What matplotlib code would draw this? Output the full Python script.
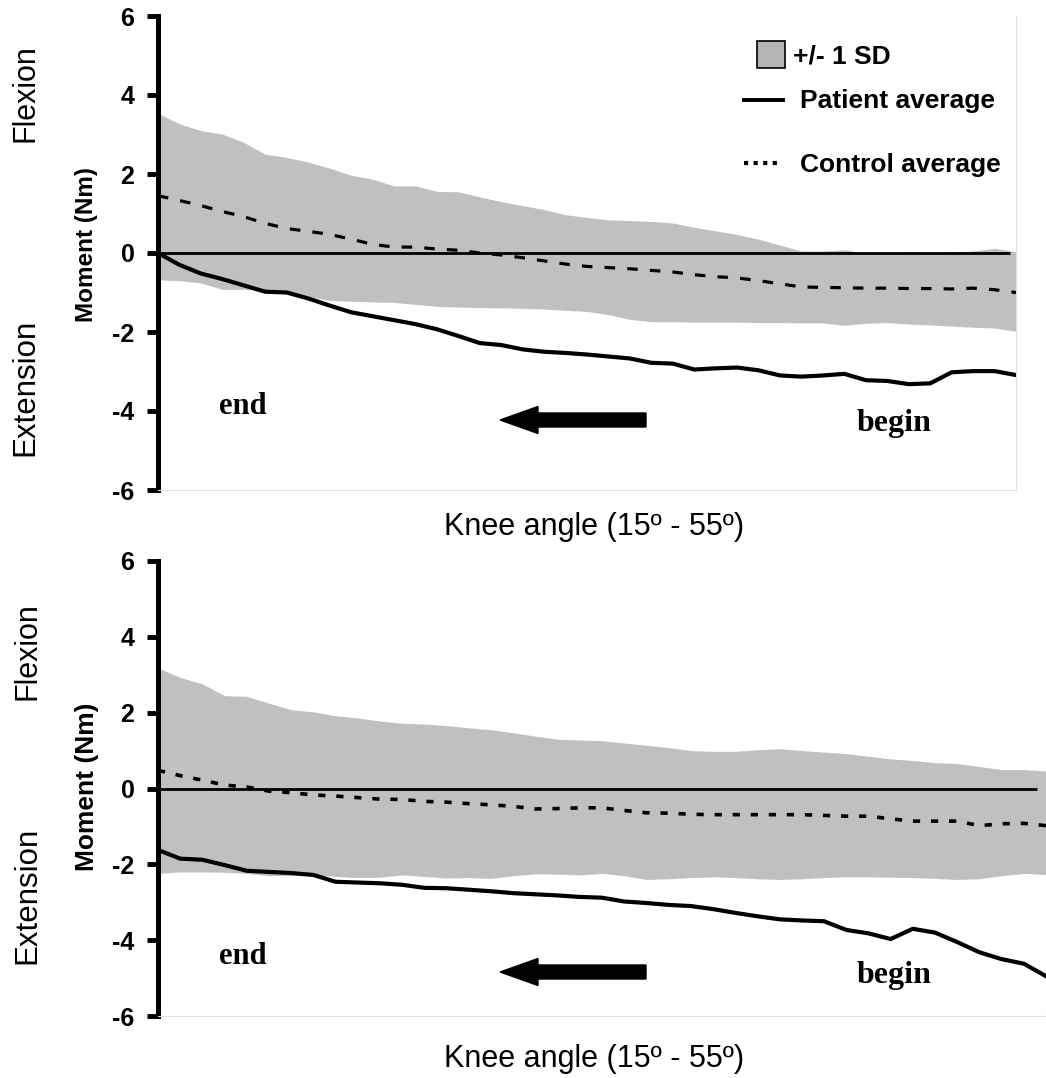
import matplotlib
matplotlib.use('Agg')
import matplotlib.pyplot as plt
import numpy as np
from matplotlib.patches import FancyArrow, Rectangle
from matplotlib.lines import Line2D

plt.rcParams['font.family'] = ['Liberation Sans', 'DejaVu Sans']

# 41 samples along the knee-angle sweep (end -> begin)
samples = np.arange(41)

# --- top panel ---
top_sd_upper = [3.54, 3.27, 3.10, 3.01, 2.80, 2.50, 2.42, 2.30, 2.15, 1.97,
                1.87, 1.70, 1.70, 1.56, 1.55, 1.42, 1.30, 1.20, 1.10, 0.97,
                0.90, 0.84, 0.82, 0.80, 0.76, 0.65, 0.56, 0.47, 0.35, 0.20,
                0.05, 0.05, 0.08, 0.00, 0.02, 0.03, 0.02, 0.03, 0.05, 0.12, 0.03]
top_sd_lower = [-0.68, -0.70, -0.76, -0.92, -0.92, -0.95, -1.00, -1.10, -1.20, -1.22,
                -1.24, -1.25, -1.30, -1.35, -1.37, -1.38, -1.39, -1.40, -1.42, -1.45,
                -1.48, -1.56, -1.68, -1.74, -1.74, -1.75, -1.75, -1.75, -1.76, -1.76,
                -1.77, -1.77, -1.83, -1.78, -1.76, -1.80, -1.82, -1.85, -1.88, -1.90, -1.98]
top_control = [1.45, 1.33, 1.20, 1.05, 0.92, 0.75, 0.62, 0.55, 0.47, 0.35,
               0.22, 0.15, 0.15, 0.10, 0.07, 0.00, -0.05, -0.12, -0.20, -0.28,
               -0.34, -0.37, -0.40, -0.44, -0.48, -0.55, -0.60, -0.63, -0.70, -0.78,
               -0.86, -0.87, -0.88, -0.89, -0.89, -0.90, -0.90, -0.91, -0.89, -0.93, -1.00]
top_patient = [0.00, -0.30, -0.52, -0.66, -0.82, -0.98, -1.00, -1.15, -1.33, -1.50,
               -1.60, -1.70, -1.80, -1.93, -2.10, -2.28, -2.33, -2.44, -2.50, -2.53,
               -2.57, -2.62, -2.67, -2.78, -2.80, -2.95, -2.92, -2.90, -2.97, -3.10,
               -3.13, -3.10, -3.06, -3.22, -3.24, -3.32, -3.30, -3.02, -2.99, -2.99, -3.09]

# --- bottom panel ---
bot_sd_upper = [3.18, 2.93, 2.76, 2.45, 2.43, 2.25, 2.08, 2.02, 1.92, 1.86,
                1.78, 1.72, 1.70, 1.66, 1.60, 1.55, 1.47, 1.38, 1.30, 1.28,
                1.26, 1.20, 1.14, 1.08, 1.00, 0.98, 0.98, 1.02, 1.05, 1.00,
                0.96, 0.92, 0.85, 0.78, 0.74, 0.68, 0.66, 0.58, 0.50, 0.50, 0.46]
bot_sd_lower = [-2.24, -2.20, -2.20, -2.21, -2.24, -2.30, -2.29, -2.27, -2.32, -2.35,
                -2.34, -2.28, -2.32, -2.36, -2.35, -2.37, -2.30, -2.25, -2.26, -2.28,
                -2.24, -2.30, -2.40, -2.38, -2.35, -2.33, -2.35, -2.38, -2.40, -2.38,
                -2.35, -2.33, -2.33, -2.34, -2.35, -2.37, -2.40, -2.38, -2.30, -2.24, -2.27]
bot_control = [0.48, 0.34, 0.22, 0.09, 0.04, -0.07, -0.11, -0.17, -0.20, -0.24,
               -0.28, -0.29, -0.34, -0.36, -0.40, -0.43, -0.47, -0.54, -0.53, -0.51,
               -0.51, -0.58, -0.64, -0.65, -0.68, -0.69, -0.69, -0.69, -0.69, -0.69,
               -0.71, -0.73, -0.73, -0.80, -0.86, -0.86, -0.86, -0.98, -0.93, -0.92, -0.98]
bot_patient = [-1.62, -1.85, -1.88, -2.02, -2.17, -2.20, -2.23, -2.28, -2.46, -2.48,
               -2.50, -2.54, -2.62, -2.63, -2.67, -2.71, -2.76, -2.79, -2.82, -2.86,
               -2.88, -2.98, -3.02, -3.07, -3.10, -3.18, -3.28, -3.37, -3.45, -3.48,
               -3.50, -3.73, -3.82, -3.97, -3.70, -3.80, -4.05, -4.32, -4.50, -4.62, -4.95]

yticks = [-6, -4, -2, 0, 2, 4, 6]
xlabel = 'Knee angle (15º - 55º)'

W, H = 1046, 1078
fig = plt.figure(figsize=(W / 100, H / 100), dpi=100)


def fx(px):
    return px / W


def fy(py):
    return 1 - py / H


ax1 = fig.add_axes([fx(158), fy(490), fx(1016) - fx(158), fy(16) - fy(490)])
ax2 = fig.add_axes([fx(158), fy(1016), fx(1046) - fx(158), fy(561) - fy(1016)])

band_color = '#c0c0c0'
panels = [
    (ax1, top_sd_upper, top_sd_lower, top_control, top_patient, (3.3, 3.8), 2.3, 39.7),
    (ax2, bot_sd_upper, bot_sd_lower, bot_control, bot_patient, (2.0, 3.0), 2.6, 39.6),
]
for ax, up, lo, ctrl, pat, dash, dlw, zend in panels:
    ax.fill_between(samples, lo, up, color=band_color, lw=0, zorder=1)
    ax.hlines(0, 0, zend, color='black', lw=2.0, zorder=2)
    ax.plot(samples, ctrl, color='black', lw=dlw, dashes=dash, zorder=3)
    ax.plot(samples, pat, color='black', lw=3.0, zorder=4, solid_joinstyle='round')
    ax.set_xlim(0, 40)
    ax.set_ylim(-6, 6)
    ax.set_xticks([])
    ax.set_yticks(yticks)
    ax.set_yticklabels([str(t) for t in yticks], fontsize=18, fontweight='bold')
    ax.tick_params(axis='y', direction='out', length=8, width=3.5, pad=9)
    ax.spines['top'].set_visible(False)
    ax.spines['left'].set_linewidth(3.6)
    ax.spines['left'].set_capstyle('projecting')
    for s in ('bottom', 'right'):
        ax.spines[s].set_color('#e4e4e4')
        ax.spines[s].set_linewidth(0.8)

# side labels
fig.text(fx(25), fy(93), 'Flexion', rotation=90, fontsize=22, ha='center', va='center')
fig.text(fx(25), fy(387), 'Extension', rotation=90, fontsize=22.5, ha='center', va='center')
fig.text(fx(27), fy(651), 'Flexion', rotation=90, fontsize=22, ha='center', va='center')
fig.text(fx(27), fy(895), 'Extension', rotation=90, fontsize=22.5, ha='center', va='center')
fig.text(fx(87), fy(244), 'Moment (Nm)', rotation=90, fontsize=17.5, fontweight='bold',
         ha='center', va='center')
fig.text(fx(87), fy(787), 'Moment (Nm)', rotation=90, fontsize=19, fontweight='bold',
         ha='center', va='center')

# x labels
fig.text(fx(594), fy(535), xlabel, fontsize=22, ha='center', va='baseline')
fig.text(fx(594), fy(1067), xlabel, fontsize=22, ha='center', va='baseline')

# begin / end and direction arrows
for y_end, y_begin, y_arrow in [(407, 423, 420), (957, 975, 972)]:
    fig.text(fx(219), fy(y_end), 'end', family='Liberation Serif', fontweight='bold',
             fontsize=22, ha='left', va='center')
    fig.text(fx(857), fy(y_begin), 'begin', family='Liberation Serif', fontweight='bold',
             fontsize=23, ha='left', va='center')
    fig.add_artist(FancyArrow(fx(646), fy(y_arrow), fx(500) - fx(646), 0,
                              width=14 / H, head_width=27 / H, head_length=38 / W,
                              length_includes_head=True, color='black',
                              transform=fig.transFigure))

# legend (top panel only)
fig.add_artist(Rectangle((fx(757), fy(68)), fx(785) - fx(757), fy(41) - fy(68),
                         facecolor='#b4b4b4', edgecolor='black', lw=1.2,
                         transform=fig.transFigure))
fig.text(fx(793), fy(56), '+/- 1 SD', fontsize=19, fontweight='bold', va='center')
fig.add_artist(Line2D([fx(744), fx(783)], [fy(100), fy(100)], color='black', lw=2.8,
                      transform=fig.transFigure))
fig.text(fx(800), fy(101), 'Patient average', fontsize=19, fontweight='bold', va='center')
fig.add_artist(Line2D([fx(744), fx(780)], [fy(163), fy(163)], color='black', lw=3,
                      dashes=(1, 1.3), transform=fig.transFigure))
fig.text(fx(800), fy(165), 'Control average', fontsize=19, fontweight='bold', va='center')

fig.savefig('out.png', dpi=100)
